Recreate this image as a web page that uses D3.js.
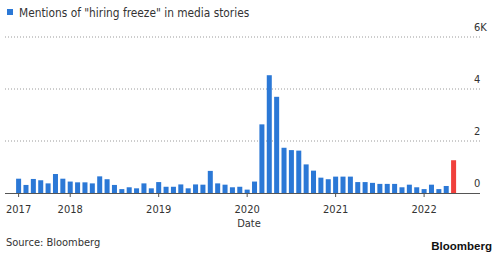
<!DOCTYPE html>
<html lang="en">
<head>
    <meta charset="UTF-8">
    <title>Hiring freeze mentions</title>
    <script src="https://d3js.org/d3.v7.min.js"></script>
    <style>
        body { margin: 0; background: #fff; }
        svg { display: block; font-family: "DejaVu Sans Condensed", "DejaVu Sans", sans-serif; }
        .grid line { stroke: #9a9a9a; stroke-dasharray: 1,2; }
        .lbl { fill: #333; font-size: 11px; }
    </style>
</head>
<body>
    <svg width="500" height="255"></svg>

    <script>
        // monthly mentions, Jun 2017 .. May 2022 (thousands)
        const months = d3.timeMonths(new Date(2017, 5, 1), new Date(2022, 5, 1));
        const mentions = [
            0.55, 0.31, 0.54, 0.49, 0.37, 0.73, 0.55,
            0.44, 0.41, 0.41, 0.37, 0.64, 0.53, 0.31, 0.15, 0.22, 0.18, 0.37, 0.18,
            0.42, 0.24, 0.24, 0.33, 0.18, 0.33, 0.32, 0.85, 0.37, 0.32, 0.22, 0.24,
            0.13, 0.44, 2.64, 4.53, 3.70, 1.74, 1.65, 1.63, 1.10, 0.86, 0.59, 0.53,
            0.63, 0.63, 0.63, 0.42, 0.42, 0.39, 0.35, 0.35, 0.35, 0.22, 0.32, 0.22,
            0.15, 0.32, 0.15, 0.27, 1.26
        ];
        const yTicks = [0, 2, 4, 6];
        const yearTicks = ["2017", "2018", "2019", "2020", "2021", "2022"];

        const svg = d3.select("svg");
        const base = 193, plotTop = 37, left = 5, right = 480;

        const x = d3.scaleBand()
            .domain(months.map((d, i) => i))
            .range([16.1, 456.1])
            .paddingInner(0.32);

        const y = d3.scaleLinear()
            .domain([0, 6])
            .range([base, plotTop]);

        // gridlines
        svg.append("g").attr("class", "grid")
            .selectAll("line")
            .data(yTicks.filter(d => d > 0))
            .enter().append("line")
            .attr("x1", left).attr("x2", right)
            .attr("y1", d => y(d)).attr("y2", d => y(d));

        svg.append("g")
            .selectAll("text")
            .data(yTicks)
            .enter().append("text")
            .attr("class", "lbl")
            .attr("x", 474)
            .attr("y", d => y(d) - 6)
            .text(d => d === 6 ? "6K" : d);

        // bars
        svg.append("g")
            .selectAll("rect")
            .data(mentions)
            .enter().append("rect")
            .attr("x", (d, i) => x(i))
            .attr("y", d => y(d))
            .attr("width", x.bandwidth())
            .attr("height", d => base - y(d))
            .attr("fill", (d, i) => i === mentions.length - 1 ? "#f0403c" : "#2b78d6");

        // x axis
        svg.append("line")
            .attr("x1", left).attr("x2", right)
            .attr("y1", base + 0.5).attr("y2", base + 0.5)
            .attr("stroke", "#555");

        const yearIdx = yearTicks.map(yr => {
            const i = months.findIndex(m => m.getFullYear() === +yr);
            return { yr, i };
        });

        const xt = svg.append("g")
            .selectAll("g")
            .data(yearIdx)
            .enter().append("g")
            .attr("transform", d => `translate(${x(d.i) + x.bandwidth() / 2},0)`);

        xt.append("line")
            .attr("y1", base).attr("y2", base + 4)
            .attr("stroke", "#555");

        xt.append("text")
            .attr("class", "lbl")
            .attr("y", 213)
            .attr("text-anchor", "middle")
            .text(d => d.yr);

        svg.append("text")
            .attr("class", "lbl")
            .attr("x", 249).attr("y", 227)
            .attr("text-anchor", "middle")
            .text("Date");

        // legend
        svg.append("rect")
            .attr("x", 7).attr("y", 9)
            .attr("width", 6).attr("height", 6)
            .attr("fill", "#2b78d6");

        svg.append("text")
            .attr("class", "lbl")
            .attr("x", 19).attr("y", 17)
            .style("font-size", "11.8px")
            .text('Mentions of "hiring freeze" in media stories');

        svg.append("text")
            .attr("class", "lbl")
            .attr("x", 6).attr("y", 246)
            .text("Source: Bloomberg");

        svg.append("text")
            .attr("x", 492).attr("y", 250)
            .attr("text-anchor", "end")
            .style("font-family", "'Liberation Sans', Arial, sans-serif")
            .style("font-size", "11.5px")
            .style("font-weight", "bold")
            .style("fill", "#111")
            .text("Bloomberg");
    </script>
</body>
</html>
